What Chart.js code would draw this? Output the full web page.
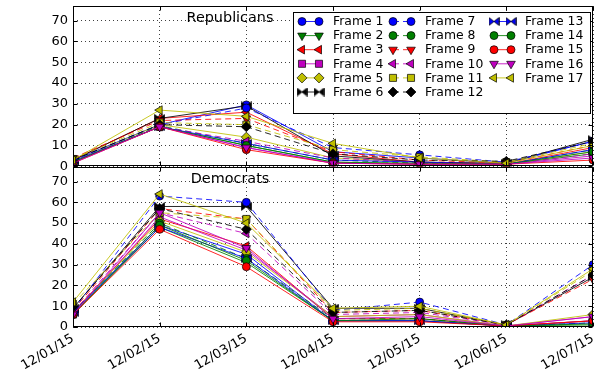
<!DOCTYPE html>
<html><head><meta charset="utf-8">
<script src="https://cdn.jsdelivr.net/npm/chart.js@4/dist/chart.umd.min.js"></script>
<style>
html,body{margin:0;padding:0;background:#fff;}
#wrap{position:relative;width:600px;height:378px;overflow:hidden;background:#fff;}
#c1{position:absolute;left:0;top:0;}
#c2{position:absolute;left:0;top:160px;}
</style></head><body>
<div id="wrap"><canvas id="c1" width="600" height="172"></canvas><canvas id="c2" width="600" height="218"></canvas></div>
<script>
// ---- data ----
const dates = ['12/01/15','12/02/15','12/03/15','12/04/15','12/05/15','12/06/15','12/07/15'];
const frameNames = ['Frame 1','Frame 2','Frame 3','Frame 4','Frame 5','Frame 6','Frame 7','Frame 8','Frame 9','Frame 10','Frame 11','Frame 12','Frame 13','Frame 14','Frame 15','Frame 16','Frame 17'];
const yTicks = [0,10,20,30,40,50,60,70];
const panelTitles = ['Republicans','Democrats'];

const R1  = [3, 20, 29.5, 7, 4, 1.5, 12];
const R2  = [2, 19, 10, 2, 1, 1, 6];
const R3  = [3, 23, 26, 6, 2, 1, 9];
const R4  = [2, 19, 9, 1.5, 1, 1, 5];
const R5  = [2.5, 20, 14, 4, 2, 1, 7];
const R6  = [3, 23, 29, 5, 2, 1.5, 13];
const R7  = [3, 20, 28, 9, 5.5, 2, 12];
const R8  = [2, 19.5, 11, 3, 1.5, 1, 8];
const R9  = [4, 22, 23, 7, 3, 1.5, 10];
const R10 = [2, 19, 12, 4, 2, 1, 6];
const R11 = [3.5, 21, 20, 8, 4.5, 2, 11];
const R12 = [3, 20, 19, 6, 3, 2.4, 12];
const R13 = [2.5, 19, 11, 3, 2, 1, 8];
const R14 = [2, 19, 10, 2, 1.5, 1, 7];
const R15 = [1.5, 19, 8, 1.5, 1, 1, 3];
const R16 = [1.5, 19, 9, 1.5, 1, 1, 4];
const R17 = [3, 27, 24, 11, 4, 1.5, 10];

const D1  = [7, 49, 35, 3, 3, 0.5, 3];
const D2  = [6, 48, 31, 3, 3, 0.5, 1];
const D3  = [7, 52, 39, 4, 4, 0.5, 3];
const D4  = [6, 53, 37, 5, 6, 0.5, 5];
const D5  = [7, 51, 36, 5, 6, 0.5, 6];
const D6  = [9, 58, 58, 9, 9, 1, 24];
const D7  = [8, 63, 60, 8, 12, 1, 30];
const D8  = [7, 50, 33, 4, 4, 0.5, 2];
const D9  = [8, 57, 52, 7, 8, 1, 23];
const D10 = [7, 55, 45, 6, 7, 1, 25];
const D11 = [11, 55, 52, 8, 9, 1, 27];
const D12 = [9, 57, 47, 7, 8, 1, 25];
const D13 = [7, 48, 33, 3, 3, 0.5, 2];
const D14 = [6, 49, 32, 3, 4, 0.5, 1.5];
const D15 = [6, 47, 29, 2.5, 2.5, 0.5, 3];
const D16 = [6, 55, 38, 4, 5, 0.5, 5];
const D17 = [12, 64, 50, 9, 10, 1, 28];

const repSeries = [R1,R2,R3,R4,R5,R6,R7,R8,R9,R10,R11,R12,R13,R14,R15,R16,R17];
const demSeries = [D1,D2,D3,D4,D5,D6,D7,D8,D9,D10,D11,D12,D13,D14,D15,D16,D17];

// ---- styles ----
const palette = [[0,0,255],[0,128,0],[255,0,0],[191,0,191],[191,191,0],[0,0,0]];
const markerCycle = ['o','v','<','s','D','bow','o8'];
const FONT = "'DejaVu Sans', 'Liberation Sans', sans-serif";
const LINE_ALPHA = 0.85;

function rgb(c,a){return a===undefined?`rgb(${c[0]},${c[1]},${c[2]})`:`rgba(${c[0]},${c[1]},${c[2]},${a})`;}
function isDashed(i){return i>=6 && i<12;}

function bowtie(col){
  const cv=document.createElement('canvas'); cv.width=11; cv.height=9;
  const c=cv.getContext('2d');
  c.fillStyle=col; c.strokeStyle='#000'; c.lineWidth=0.8;
  c.beginPath();
  c.moveTo(0.6,0.6); c.lineTo(5.5,4.5); c.lineTo(0.6,8.4); c.closePath();
  c.moveTo(10.4,0.6); c.lineTo(5.5,4.5); c.lineTo(10.4,8.4); c.closePath();
  c.fill(); c.stroke();
  return cv;
}
function markerStyle(i){
  const m=markerCycle[i%7], col=rgb(palette[i%6]);
  switch(m){
    case 'o': return {ps:'circle',rot:0,r:4};
    case 'o8': return {ps:'circle',rot:0,r:4};
    case 'v': return {ps:'triangle',rot:180,r:5};
    case '<': return {ps:'triangle',rot:-90,r:5};
    case 's': return {ps:'rect',rot:0,r:5};
    case 'D': return {ps:'rectRot',rot:0,r:5};
    case 'bow': return {ps:bowtie(col),rot:0,r:5};
  }
}

function makeDatasets(series){
  return series.map((d,i)=>{
    const ms=markerStyle(i), c=palette[i%6];
    return {
      label: frameNames[i], data: d,
      borderColor: rgb(c,LINE_ALPHA), backgroundColor: rgb(c),
      borderWidth: 1, borderDash: isDashed(i)?[6,4]:[],
      pointStyle: ms.ps, pointRotation: ms.rot, pointRadius: ms.r,
      pointBackgroundColor: rgb(c), pointBorderColor:'#000', pointBorderWidth:0.7,
      tension: 0, fill:false, clip: 0, order: 100-i
    };
  });
}

function drawMarker(ctx,i,x,y){
  const ms=markerStyle(i), c=rgb(palette[i%6]);
  ctx.save();
  ctx.setLineDash([]);
  ctx.fillStyle=c; ctx.strokeStyle='#000'; ctx.lineWidth=0.7;
  if (typeof ms.ps !== 'string'){ ctx.drawImage(ms.ps, x-ms.ps.width/2, y-ms.ps.height/2); ctx.restore(); return; }
  ctx.beginPath();
  const r=ms.r;
  if (ms.ps==='circle'){ ctx.arc(x,y,r,0,Math.PI*2); }
  else if (ms.ps==='triangle'){
    let a=ms.rot*Math.PI/180;
    for(let k=0;k<3;k++){ const px=x+Math.sin(a)*r, py=y-Math.cos(a)*r; k?ctx.lineTo(px,py):ctx.moveTo(px,py); a+=2*Math.PI/3; }
    ctx.closePath();
  } else if (ms.ps==='rect'){ const s=Math.SQRT1_2*r; ctx.rect(x-s,y-s,2*s,2*s); }
  else if (ms.ps==='rectRot'){ ctx.moveTo(x,y-r); ctx.lineTo(x+r,y); ctx.lineTo(x,y+r); ctx.lineTo(x-r,y); ctx.closePath(); }
  ctx.fill(); ctx.stroke();
  ctx.restore();
}

const framePlugin = {
  id:'frame',
  afterDatasetsDraw(chart){
    const {ctx, chartArea:a} = chart;
    ctx.save();
    ctx.strokeStyle='#000'; ctx.lineWidth=1; ctx.setLineDash([]);
    const L=Math.round(a.left)+0.5, R=Math.round(a.right)-0.5, T=Math.round(a.top)+0.5, B=Math.round(a.bottom)-0.5;
    ctx.beginPath();
    const ys=chart.scales.y;
    yTicks.forEach(v=>{ const py=Math.round(ys.getPixelForValue(v))+0.5; ctx.moveTo(L,py); ctx.lineTo(L+4,py); ctx.moveTo(R,py); ctx.lineTo(R-4,py); });
    const xs=chart.scales.x;
    dates.forEach((d,k)=>{ const px=Math.round(xs.getPixelForValue(k))+0.5; ctx.moveTo(px,T); ctx.lineTo(px,T+4); ctx.moveTo(px,B); ctx.lineTo(px,B-4); });
    ctx.stroke();
    ctx.strokeRect(L,T,R-L,B-T);
    ctx.fillStyle='#000'; ctx.font='14.4px '+FONT; ctx.textAlign='center'; ctx.textBaseline='alphabetic';
    ctx.fillText(chart.options.plugins.frame.title, 230, a.top+16);
    ctx.restore();
  }
};

const legendPlugin = {
  id:'framelegend',
  afterDraw(chart){
    if(!chart.options.plugins.framelegend.show) return;
    const ctx=chart.ctx;
    ctx.save();
    const bx=293.5, by=12.5, bw=297, bh=101;
    ctx.fillStyle='#fff'; ctx.strokeStyle='#000'; ctx.lineWidth=1;
    ctx.fillRect(bx,by,bw,bh); ctx.strokeRect(bx,by,bw,bh);
    const cols=[{m1:302,m2:319,t:333},{m1:393,m2:411,t:425},{m1:494,m2:511,t:525}];
    ctx.font='12.4px '+FONT; ctx.textBaseline='middle'; ctx.textAlign='left';
    frameNames.forEach((name,i)=>{
      const col = i<6?0:(i<12?1:2), row=i-col*6;
      const y=21.5+row*14.1, c=cols[col];
      ctx.save();
      ctx.strokeStyle=rgb(palette[i%6],LINE_ALPHA); ctx.lineWidth=1;
      ctx.setLineDash(isDashed(i)?[6,4]:[]);
      ctx.beginPath(); ctx.moveTo(c.m1,y); ctx.lineTo(c.m2,y); ctx.stroke();
      ctx.restore();
      drawMarker(ctx,i,c.m1,y); drawMarker(ctx,i,c.m2,y);
      ctx.fillStyle='#000'; ctx.fillText(name,c.t,y+0.5);
    });
    ctx.restore();
  }
};

function yScale(){
  return {
    min:0, max:77,
    afterBuildTicks: s=>{ s.ticks = yTicks.map(v=>({value:v})); },
    afterFit: s=>{ s.width=73; s.paddingTop=0; s.paddingBottom=0; },
    grid:{ color:'rgba(0,0,0,0.75)', lineWidth:1, drawTicks:false },
    border:{ display:false, dash:[1,3] },
    ticks:{ color:'#000', font:{size:13, family:FONT}, padding:5 }
  };
}

Chart.defaults.font.family = FONT;

function makeChart(id, series, title, isTop){
  const xs = {
    type:'category',
    grid:{ color:'rgba(0,0,0,0.75)', lineWidth:1, drawTicks:false },
    border:{ display:false, dash:[1,3] },
    ticks: isTop ? {display:false} : { color:'#000', font:{size:13, family:FONT}, maxRotation:30, minRotation:30, autoSkip:false, padding:4 },
    afterFit: s=>{ s.height = isTop ? 0 : 51; s.paddingRight=0; }
  };
  return new Chart(document.getElementById(id), {
    type:'line',
    data:{ labels: dates, datasets: makeDatasets(series) },
    options:{
      responsive:false, animation:false, devicePixelRatio:1,
      layout:{ padding: isTop ? {top:6,bottom:5,left:0,right:7} : {top:7,bottom:0,left:0,right:7} },
      scales:{ x: xs, y: yScale() },
      plugins:{ legend:{display:false}, tooltip:{enabled:false}, title:{display:false},
        frame:{ title:title }, framelegend:{ show:isTop } }
    },
    plugins:[framePlugin, legendPlugin]
  });
}

makeChart('c1', repSeries, panelTitles[0], true);
makeChart('c2', demSeries, panelTitles[1], false);
</script>
</body></html>
